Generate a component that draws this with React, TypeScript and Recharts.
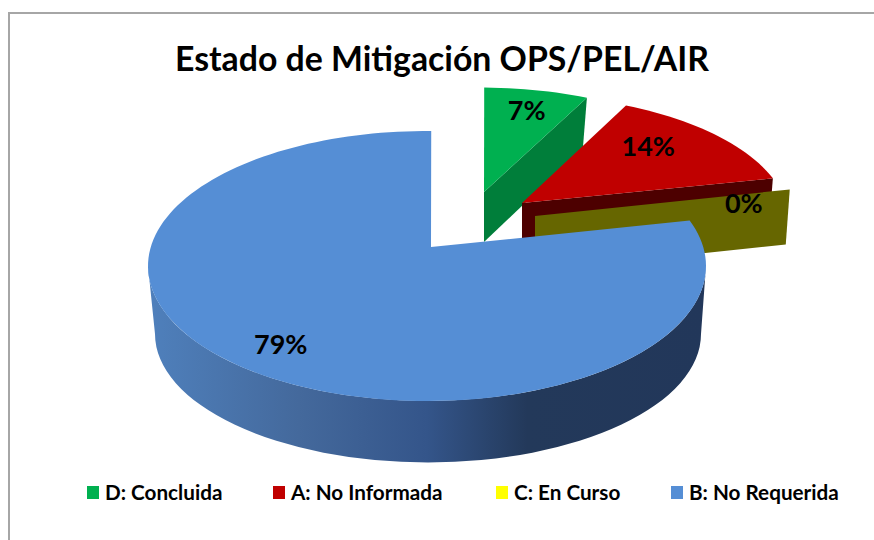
import React from "react";
import { PieChart, Pie, Legend } from "recharts";

const CATEGORIES = ["D: Concluida", "A: No Informada", "C: En Curso", "B: No Requerida"];
const VALUES = [7.2, 14.2, 0, 78.6];
const COLORS = ["#00B050", "#C00000", "#FFFF00", "#558ED5"];
const WALLS = ["#007E3A", "#4D0000", "#666600", "url(#bWall)"];

// Exploded-slice placement: [dx, dy, scaleX, scaleY, depth]
const EXPLODE = [
  [53, -55, 0.96, 0.9, 50],
  [91, -44, 0.97, 0.93, 50],
  [104, -31, 0.985, 1, 55],
  [0, 0, 1, 1, 0],
];
const LABEL_F = [0.75, 0.62, 0.83, 0.83];
const LABEL_NUDGE = [
  [3, -4],
  [5, -13],
  [-3, 9],
  [14, 3],
];
const LEGEND_X = [87, 273, 496, 671];

const TILT = 135 / 279;
const E = 0.14;
const FONT = "Lato, 'Noto Sans', sans-serif";

const table = CATEGORIES.map((name, i) => ({ name, value: VALUES[i], fill: COLORS[i] }));

function project(cx: number, cy: number, R: number, angle: number, f = 1): [number, number] {
  const t = ((90 - angle) * Math.PI) / 180;
  const u = f * Math.sin(t);
  const v = f * Math.cos(t);
  const d = 1 + E * v;
  const xp = (u * Math.sqrt(1 - E * E)) / d;
  const yp = (v + E) / d;
  return [cx + R * xp, cy - R * TILT * yp];
}

function place(cx: number, cy: number, R: number, i: number, p: [number, number]): [number, number] {
  const a: [number, number] = [cx + 4, cy - R * TILT * E];
  const [dx, dy, sx, sy] = EXPLODE[i];
  return [a[0] + dx + sx * (p[0] - a[0]), a[1] + dy + sy * (p[1] - a[1])];
}

function Slice3D(props: any) {
  const { cx, cy, outerRadius: R, startAngle, endAngle, name, fill } = props;
  const i = CATEGORIES.indexOf(name);
  const apex = place(cx, cy, R, i, [cx + 4, cy - R * TILT * E]);
  const steps = Math.max(1, Math.ceil(Math.abs(startAngle - endAngle) / 2));
  const rim: [number, number][] = [];
  for (let s = 0; s <= steps; s++) {
    const ang = startAngle + ((endAngle - startAngle) * s) / steps;
    rim.push(place(cx, cy, R, i, project(cx, cy, R, ang)));
  }
  const top = `M${apex[0]},${apex[1]} ` + rim.map((p) => `L${p[0]},${p[1]}`).join(" ") + " Z";
  const depth = EXPLODE[i][4];
  if (i === 3) {
    const r2 = 273;
    const cx2 = cx + 1;
    const cy2 = cy + 68;
    const k2 = 128.5 / 273;
    const wall = `M${cx - R},${cy} A${R},${R * TILT} 0 0 0 ${cx + R},${cy} L${cx2 + r2},${cy2} A${r2},${r2 * k2} 0 0 1 ${cx2 - r2},${cy2} Z`;
    return (
      <g>
        <defs>
          <linearGradient id="bWall" gradientUnits="userSpaceOnUse" x1={cx - R} x2={cx + R} y1={0} y2={0}>
            <stop offset="0" stopColor="#4F80BC" />
            <stop offset="0.27" stopColor="#44699C" />
            <stop offset="0.5" stopColor="#34558A" />
            <stop offset="0.68" stopColor="#23395A" />
            <stop offset="1" stopColor="#22375A" />
          </linearGradient>
        </defs>
        <path d={wall} fill={WALLS[i]} />
        <path d={top} fill={fill} />
      </g>
    );
  }
  const end = rim[rim.length - 1];
  const wall = `M${apex[0]},${apex[1]} L${end[0]},${end[1]} L${end[0] - 4},${end[1] + depth} L${apex[0]},${apex[1] + depth} Z`;
  return (
    <g>
      <path d={wall} fill={WALLS[i]} />
      <path d={top} fill={fill} />
    </g>
  );
}

function PctLabel(props: any) {
  const { cx, cy, outerRadius: R, midAngle, percent, name } = props;
  const i = CATEGORIES.indexOf(name);
  const p = place(cx, cy, R, i, project(cx, cy, R, midAngle, LABEL_F[i]));
  return (
    <text x={p[0] + LABEL_NUDGE[i][0]} y={p[1] + LABEL_NUDGE[i][1]} textAnchor="middle" dominantBaseline="central" fontFamily={FONT} fontWeight={700} fontSize={27} fill="#000">
      {`${Math.round(percent * 100)}%`}
    </text>
  );
}

function LegendRow({ payload }: any) {
  return (
    <div style={{ position: "relative", width: 874, height: 24 }}>
      {(payload || []).map((e: any, i: number) => (
        <div key={e.value} style={{ position: "absolute", left: LEGEND_X[i], top: 0, display: "flex", alignItems: "center", height: 24, whiteSpace: "nowrap" }}>
          <span style={{ display: "inline-block", width: 12, height: 13, background: e.color, marginRight: 6 }} />
          <span style={{ fontFamily: FONT, fontWeight: 700, fontSize: 20.7, color: "#000" }}>{e.value}</span>
        </div>
      ))}
    </div>
  );
}

export default function App() {
  return (
    <div style={{ position: "absolute", left: 0, top: 0, width: 874, height: 540, overflow: "hidden", background: "#fff" }}>
      <div style={{ position: "absolute", left: 8, top: 12, width: 900, height: 600, border: "2px solid #a6a6a6", boxSizing: "border-box" }} />
      <div style={{ position: "absolute", left: 0, width: 884, top: 37, textAlign: "center", fontFamily: FONT, fontWeight: 700, fontSize: 33.8, lineHeight: "42px", color: "#000", whiteSpace: "nowrap" }}>
        Estado de Mitigación OPS/PEL/AIR
      </div>
      <div style={{ position: "absolute", left: 0, top: 0 }}>
        <PieChart width={874} height={540} margin={{ top: 0, right: 0, bottom: 0, left: 0 }}>
          <Pie
            data={table}
            dataKey="value"
            nameKey="name"
            cx={427}
            cy={266}
            outerRadius={279}
            startAngle={89}
            endAngle={-271}
            stroke="none"
            isAnimationActive={false}
            shape={Slice3D}
            label={PctLabel}
            labelLine={false}
          />
          <Legend itemSorter={null} content={LegendRow} wrapperStyle={{ position: "absolute", left: 0, top: 480, width: 874, height: 24 }} />
        </PieChart>
      </div>
    </div>
  );
}
